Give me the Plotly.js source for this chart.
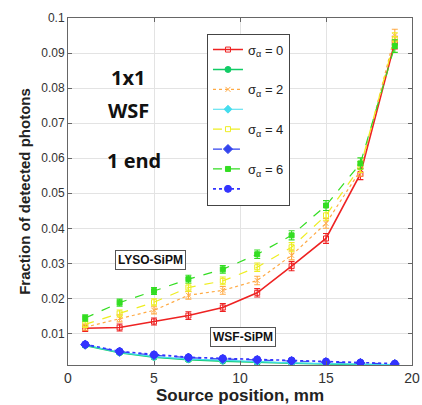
<!DOCTYPE html>
<html><head><meta charset="utf-8">
<script src="https://cdn.plot.ly/plotly-3.0.1.min.js"></script>
<style>html,body{margin:0;padding:0;background:#fff}#chart{width:422px;height:405px}</style>
</head><body><div id="chart"></div>
<script>
const positions = [1, 3, 5, 7, 9, 11, 13, 15, 17, 19];
// LYSO-SiPM readout
const lysoSigma0 = [0.0115, 0.0117, 0.0134, 0.0151, 0.0174, 0.0216, 0.0292, 0.0371, 0.0555, 0.0930];
const lysoSigma2 = [0.0118, 0.0143, 0.0166, 0.0209, 0.0223, 0.0251, 0.0323, 0.0414, 0.0565, 0.0950];
const lysoSigma4 = [0.0126, 0.0157, 0.0189, 0.0231, 0.0250, 0.0289, 0.0346, 0.0437, 0.0575, 0.0940];
const lysoSigma6 = [0.0144, 0.0188, 0.0221, 0.0255, 0.0283, 0.0326, 0.0380, 0.0465, 0.0585, 0.0920];
const lysoErr = [0.0009, 0.0010, 0.0010, 0.0011, 0.0011, 0.0012, 0.0013, 0.0014, 0.0016, 0.0018];
// WSF-SiPM readout
const wsfSigma0 = [0.0066, 0.0045, 0.0032, 0.0025, 0.0021, 0.0017, 0.0015, 0.0013, 0.0011, 0.0010];
const wsfSigma2 = [0.0067, 0.0046, 0.0034, 0.0027, 0.0023, 0.0019, 0.0016, 0.0014, 0.0012, 0.0011];
const wsfSigma4 = [0.0068, 0.0048, 0.0038, 0.0031, 0.0027, 0.0024, 0.0021, 0.0018, 0.0016, 0.0013];
const wsfSigma6 = [0.0069, 0.0049, 0.0040, 0.0032, 0.0029, 0.0026, 0.0023, 0.0020, 0.0017, 0.0014];
const wsfErr = [0.0005, 0.0005, 0.0004, 0.0004, 0.0004, 0.0004, 0.0004, 0.0004, 0.0004, 0.0004];
const legendNames = ['σ<sub>α</sub> = 0', ' ', 'σ<sub>α</sub> = 2', ' ', 'σ<sub>α</sub> = 4', ' ', 'σ<sub>α</sub> = 6', ' '];

function tr(y, err, name, color, dash, symbol, width, msize) {
  return {
    x: positions, y: y, name: name, type: 'scatter', mode: 'lines+markers',
    line: {color: color, width: width, dash: dash},
    marker: {symbol: symbol, size: msize, color: color, line: {color: color, width: 1}},
    error_y: {type: 'data', array: err, visible: true, color: color, thickness: 1.1, width: 3}
  };
}
const data = [
  tr(lysoSigma0, lysoErr, legendNames[0], '#ee2222', 'solid', 'square-open', 1.6, 5),
  tr(wsfSigma0, wsfErr, legendNames[1], '#11cc66', 'solid', 'circle', 1.6, 6),
  tr(lysoSigma2, lysoErr, legendNames[2], '#ffaa44', 'dot', 'x-thin-open', 1.2, 5),
  tr(wsfSigma2, wsfErr, legendNames[3], '#44ddee', 'solid', 'diamond', 1.2, 6),
  tr(lysoSigma4, lysoErr, legendNames[4], '#eeee22', 'dash', 'square-open', 1.2, 5),
  tr(wsfSigma4, wsfErr, legendNames[5], '#3344ee', 'dash', 'diamond', 1.2, 7),
  tr(lysoSigma6, lysoErr, legendNames[6], '#33dd22', 'dash', 'square', 1.2, 5),
  tr(wsfSigma6, wsfErr, legendNames[7], '#3333ff', 'dot', 'circle', 1.6, 7)
];
const layout = {
  width: 422, height: 405,
  margin: {l: 68, r: 10, t: 18, b: 40},
  paper_bgcolor: '#fff', plot_bgcolor: '#fff',
  font: {family: 'Liberation Sans, Arial, sans-serif', color: '#333'},
  showlegend: true,
  legend: {x: 0.404, y: 0.955, xanchor: 'left', yanchor: 'top', bgcolor: '#fff',
    bordercolor: '#444', borderwidth: 1, font: {size: 13, color: '#222'},
    traceorder: 'normal', tracegroupgap: 0, itemwidth: 30},
  xaxis: {range: [0, 20], dtick: 5, tick0: 0, showgrid: true, gridcolor: '#e3e3e3',
    showline: true, linecolor: '#666', mirror: 'ticks', ticks: 'inside', ticklen: 4,
    tickcolor: '#666', zeroline: false, tickfont: {size: 14, color: '#333'},
    title: {text: '<b>Source position, mm</b>', font: {size: 17, color: '#222'}, standoff: 4}},
  yaxis: {range: [0.001, 0.1], dtick: 0.01, tick0: 0.01, showgrid: true, gridcolor: '#e3e3e3',
    showline: true, linecolor: '#666', mirror: 'ticks', ticks: 'inside', ticklen: 4,
    tickcolor: '#666', zeroline: false, tickfont: {size: 12, color: '#333'},
    title: {text: '<b>Fraction of detected photons</b>', font: {size: 15, color: '#222'}, standoff: 6}},
  annotations: [
    {xref: 'paper', yref: 'paper', xanchor: 'center', yanchor: 'middle', x: (128-68)/344, y: (365-77)/347, text: '<b>1x1</b>', showarrow: false, font: {size: 20, color: '#111', family: 'Open Sans, sans-serif'}},
    {xref: 'paper', yref: 'paper', xanchor: 'center', yanchor: 'middle', x: (128-68)/344, y: (365-110)/347, text: '<b>WSF</b>', showarrow: false, font: {size: 20, color: '#111', family: 'Open Sans, sans-serif'}},
    {xref: 'paper', yref: 'paper', xanchor: 'center', yanchor: 'middle', x: (134-68)/344, y: (365-160)/347, text: '<b>1 end</b>', showarrow: false, font: {size: 20, color: '#111', family: 'Open Sans, sans-serif'}},
    {xref: 'paper', yref: 'paper', xanchor: 'center', yanchor: 'middle', x: (150-68)/344, y: (365-260)/347, text: '<b>LYSO-SiPM</b>', showarrow: false, font: {size: 12, color: '#111'}, bordercolor: '#555', borderwidth: 1, bgcolor: '#fff', borderpad: 2},
    {xref: 'paper', yref: 'paper', xanchor: 'center', yanchor: 'middle', x: (243-68)/344, y: (365-337)/347, text: '<b>WSF-SiPM</b>', showarrow: false, font: {size: 12, color: '#111'}, bordercolor: '#555', borderwidth: 1, bgcolor: '#fff', borderpad: 2}
  ]
};
Plotly.newPlot('chart', data, layout, {displayModeBar: false, staticPlot: true});
</script></body></html>
